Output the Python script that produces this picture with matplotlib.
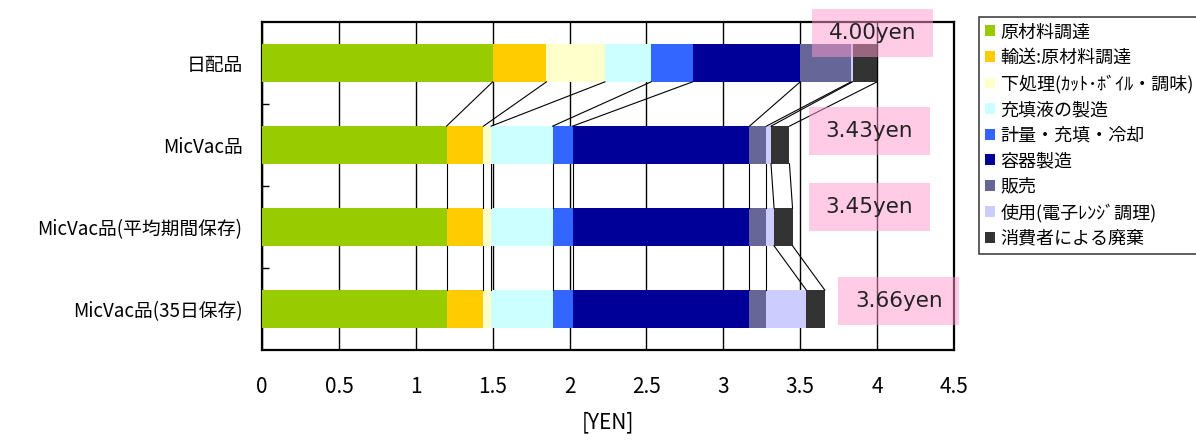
import numpy as np
import matplotlib.pyplot as plt
from matplotlib.patches import Patch, Rectangle

plt.rcParams['font.family'] = ['Noto Sans CJK JP', 'DejaVu Sans']

categories = ['日配品', 'MicVac品', 'MicVac品(平均期間保存)', 'MicVac品(35日保存)']
stages = ['原材料調達', '輸送:原材料調達', '下処理(ｶｯﾄ･ﾎﾞｲﾙ・調味)', '充填液の製造',
          '計量・充填・冷却', '容器製造', '販売', '使用(電子ﾚﾝｼﾞ調理)', '消費者による廃棄']
colors = ['#99CC00', '#FFCC00', '#FFFFCC', '#CCFFFF', '#3366FF',
          '#000099', '#666699', '#CCCCFF', '#333333']

# cost per stage [yen], one value per category
raw_material = [1.50, 1.20, 1.20, 1.20]
transport = [0.35, 0.24, 0.24, 0.24]
preprocess = [0.38, 0.05, 0.05, 0.05]
filling_liquid = [0.30, 0.40, 0.40, 0.40]
weigh_fill_cool = [0.27, 0.13, 0.13, 0.13]
container = [0.70, 1.15, 1.15, 1.15]
sales = [0.33, 0.11, 0.11, 0.11]
use_microwave = [0.01, 0.03, 0.05, 0.26]
disposal = [0.16, 0.12, 0.12, 0.12]

values = np.array([raw_material, transport, preprocess, filling_liquid,
                   weigh_fill_cool, container, sales, use_microwave, disposal])

# where the total boxes sit (data x of centre, offset from bar centre)
label_x = [3.97, 3.95, 3.95, 4.14]
label_dy = [-0.36, -0.17, -0.24, -0.10]

fig = plt.figure(figsize=(11.96, 4.4), dpi=100)
ax = fig.add_axes([262 / 1196, 1 - 350 / 440, 692 / 1196, 328 / 440])

y = np.arange(len(categories))
bar_h = 0.46
left = np.zeros(len(categories))
for i, name in enumerate(stages):
    ax.barh(y, values[i], left=left, height=bar_h, color=colors[i],
            label=name, zorder=3)
    left = left + values[i]

# series lines between neighbouring bars
cum = np.cumsum(values, axis=0)
for j in range(len(categories) - 1):
    for k in range(len(stages)):
        ax.plot([cum[k, j], cum[k, j + 1]],
                [y[j] + bar_h / 2, y[j + 1] - bar_h / 2],
                color='black', lw=0.8, zorder=4)

# total boxes
totals = values.sum(axis=0)
bw, bh = 0.787, 0.585
for j in range(len(categories)):
    cx, cy = label_x[j], y[j] + label_dy[j]
    ax.add_patch(Rectangle((cx - bw / 2, cy - bh / 2), bw, bh, fc='#FF99CC',
                           alpha=0.5, ec='none', zorder=5, clip_on=False))
    ax.text(cx, cy, f'{totals[j]:.2f}yen', ha='center', va='center',
            fontsize=15.5, family='DejaVu Sans', color='#222222', zorder=6,
            clip_on=False)

ax.set_xlim(0, 4.5)
ax.set_ylim(len(categories) - 0.5, -0.5)
ax.set_xticks(np.arange(0, 4.51, 0.5))
ax.set_xticklabels(['0', '0.5', '1', '1.5', '2', '2.5', '3', '3.5', '4', '4.5'])
ax.set_yticks(y)
ax.set_yticklabels(categories, fontsize=13.5)
ax.set_yticks(y[:-1] + 0.5, minor=True)
ax.tick_params(axis='y', which='major', length=0, pad=14)
ax.tick_params(axis='y', which='minor', direction='in', length=5, width=1)
ax.tick_params(axis='x', length=0, pad=19, labelsize=15)
ax.grid(axis='x', color='black', lw=1.0, zorder=0)
for s in ax.spines.values():
    s.set_linewidth(1.6)
ax.set_xlabel('[YEN]', fontsize=15, labelpad=9)

handles = [Patch(facecolor=c, edgecolor='none') for c in colors]
leg = fig.legend(handles, stages, loc='upper left',
                 bbox_to_anchor=(979 / 1196, 1 - 17 / 440), fontsize=13,
                 frameon=True, fancybox=False, edgecolor='black',
                 handlelength=0.55, handleheight=0.55, handletextpad=0.3,
                 labelspacing=0.42, borderpad=0.35, borderaxespad=0)
leg.get_frame().set_linewidth(1.1)

fig.savefig('out.png', dpi=100)
plt.close(fig)
